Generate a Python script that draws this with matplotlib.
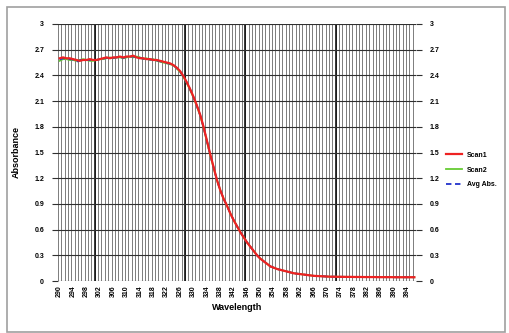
import matplotlib
matplotlib.use("Agg")
import matplotlib.pyplot as plt
from matplotlib.patches import Rectangle

wavelength = list(range(290, 397))

scan1 = [2.60, 2.61, 2.60, 2.60, 2.59, 2.58, 2.57, 2.58, 2.58, 2.59,
         2.58, 2.58, 2.59, 2.60, 2.61, 2.60, 2.61, 2.61, 2.62, 2.61,
         2.62, 2.62, 2.63, 2.61, 2.60, 2.60, 2.59, 2.59, 2.58, 2.58,
         2.57, 2.56, 2.55, 2.54, 2.52, 2.49, 2.45, 2.39, 2.32, 2.24,
         2.15, 2.05, 1.94, 1.80, 1.64, 1.48, 1.33, 1.18, 1.06, 0.96,
         0.88, 0.79, 0.71, 0.64, 0.57, 0.51, 0.45, 0.40, 0.35, 0.30,
         0.26, 0.23, 0.20, 0.17, 0.155, 0.14, 0.13, 0.12, 0.11, 0.10,
         0.09, 0.085, 0.08, 0.075, 0.07, 0.065, 0.06, 0.058, 0.056, 0.054,
         0.052, 0.050, 0.050, 0.049, 0.049, 0.048, 0.048, 0.048, 0.047, 0.047,
         0.047, 0.046, 0.046, 0.046, 0.046, 0.045, 0.045, 0.045, 0.045, 0.045,
         0.044, 0.044, 0.044, 0.044, 0.044, 0.044, 0.044]

scan2 = [2.57, 2.59, 2.59, 2.58, 2.58, 2.57, 2.58, 2.59, 2.58, 2.57,
         2.57, 2.58, 2.59, 2.59, 2.60, 2.61, 2.60, 2.61, 2.61, 2.60,
         2.61, 2.62, 2.61, 2.62, 2.61, 2.59, 2.60, 2.58, 2.59, 2.57,
         2.56, 2.55, 2.54, 2.53, 2.52, 2.48, 2.44, 2.38, 2.31, 2.23,
         2.14, 2.04, 1.93, 1.79, 1.63, 1.47, 1.32, 1.18, 1.06, 0.96,
         0.88, 0.79, 0.71, 0.64, 0.57, 0.51, 0.45, 0.40, 0.35, 0.30,
         0.26, 0.23, 0.20, 0.17, 0.155, 0.14, 0.13, 0.12, 0.11, 0.10,
         0.09, 0.085, 0.08, 0.075, 0.07, 0.065, 0.06, 0.058, 0.056, 0.054,
         0.052, 0.051, 0.050, 0.050, 0.049, 0.049, 0.048, 0.048, 0.048, 0.047,
         0.047, 0.047, 0.046, 0.046, 0.046, 0.046, 0.045, 0.045, 0.045, 0.045,
         0.045, 0.044, 0.044, 0.044, 0.044, 0.044, 0.044]

avg_abs = [2.585, 2.60, 2.595, 2.59, 2.585, 2.56, 2.575, 2.585, 2.58, 2.58,
           2.575, 2.58, 2.59, 2.595, 2.605, 2.605, 2.605, 2.61, 2.615, 2.605,
           2.615, 2.62, 2.62, 2.615, 2.605, 2.595, 2.595, 2.585, 2.585, 2.575,
           2.565, 2.555, 2.545, 2.535, 2.52, 2.485, 2.445, 2.385, 2.315, 2.235,
           2.145, 2.045, 1.935, 1.795, 1.635, 1.475, 1.325, 1.18, 1.06, 0.96,
           0.88, 0.79, 0.71, 0.64, 0.57, 0.51, 0.45, 0.40, 0.35, 0.30,
           0.26, 0.23, 0.20, 0.17, 0.155, 0.14, 0.13, 0.12, 0.11, 0.10,
           0.09, 0.085, 0.08, 0.075, 0.07, 0.065, 0.06, 0.058, 0.056, 0.054,
           0.052, 0.0505, 0.050, 0.0495, 0.049, 0.0485, 0.048, 0.048, 0.0475, 0.047,
           0.047, 0.0465, 0.046, 0.046, 0.046, 0.0455, 0.045, 0.045, 0.045, 0.045,
           0.0445, 0.044, 0.044, 0.044, 0.044, 0.044, 0.044]

x_tick_labels = list(range(290, 397, 4))
y_ticks = [0, 0.3, 0.6, 0.9, 1.2, 1.5, 1.8, 2.1, 2.4, 2.7, 3]
y_tick_labels = ["0", "0.3", "0.6", "0.9", "1.2", "1.5", "1.8", "2.1", "2.4", "2.7", "3"]
dark_lines = [300.5, 327.5, 345.5, 372.5]

plt.rcParams['font.family'] = ['Liberation Sans', 'DejaVu Sans']

W, H = 509, 333
fig = plt.figure(figsize=(W / 100, H / 100), dpi=100)
fig.patch.set_facecolor("white")

# outer chart border
fig.add_artist(Rectangle((7 / W, 1.5 / H), 498 / W, (H - 8.5) / H, transform=fig.transFigure,
                         fill=False, edgecolor="#a0a0a0", linewidth=1.2))

ax = fig.add_axes([58 / W, (H - 281) / H, (416 - 58) / W, (281 - 24) / H])
ax.set_xlim(289.5, 396.5)
ax.set_ylim(0, 3)

# vertical minor gridlines each nm
for k in range(len(wavelength) + 1):
    ax.axvline(289.5 + k, color="#7c7c7c", linewidth=0.7, zorder=1)
for d in dark_lines:
    ax.axvline(d, color="black", linewidth=1.1, zorder=1.5)
for yv in y_ticks:
    ax.axhline(yv, color="#303030", linewidth=0.8, zorder=1.6)

ax.plot(wavelength, scan2, color="#66cc33", linewidth=1.3, zorder=3, label="Scan2")
ax.plot(wavelength, avg_abs, color="#2233cc", linewidth=1.3, linestyle=(0, (3, 2)), zorder=3.5, label="Avg Abs.")
ax.plot(wavelength, scan1, color="#ee2222", linewidth=1.6, zorder=4, label="Scan1")

ax.set_xticks(x_tick_labels)
ax.set_xticklabels([str(v) for v in x_tick_labels], rotation=90, fontsize=5, fontweight="bold")
ax.tick_params(axis="x", length=0, pad=3)
ax.set_yticks(y_ticks)
ax.set_yticklabels(y_tick_labels, fontsize=5, fontweight="bold")
ax.tick_params(axis="y", length=4, width=0.8, color="#303030", direction="out", pad=6,
               left=True, right=True, labelleft=True, labelright=True)
for s in ax.spines.values():
    s.set_visible(False)

ax.set_xlabel("Wavelength", fontsize=6.5, fontweight="bold", labelpad=4)
ax.set_ylabel("Absorbance", fontsize=6.5, fontweight="bold", labelpad=10)

handles, labels = ax.get_legend_handles_labels()
order = [2, 0, 1]
leg = fig.legend([handles[i] for i in order], [labels[i] for i in order],
                 loc="center left", bbox_to_anchor=(440 / W, (H - 170) / H),
                 frameon=False, handlelength=2.2, labelspacing=1.1,
                 prop={"weight": "bold", "size": 5})

fig.savefig("out.png", dpi=100, facecolor="white")
